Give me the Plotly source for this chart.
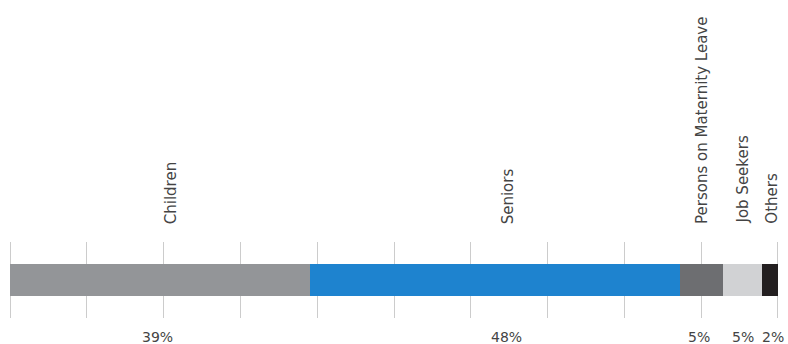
import plotly.graph_objects as go

categories = ["Children", "Seniors", "Persons on Maternity Leave", "Job Seekers", "Others"]
values = [39.1, 48.2, 5.5, 5.2, 2.0]
pct_labels = ["39%", "48%", "5%", "5%", "2%"]
colors = ["#939598", "#1e83cf", "#6d6e71", "#d1d2d4", "#231f20"]

FONT = "DejaVu Sans"
TXT = "#444444"

fig = go.Figure()
for cat, v, c in zip(categories, values, colors):
    fig.add_trace(go.Bar(
        x=[v], y=[0.5], orientation="h", name=cat,
        marker=dict(color=c, line=dict(width=0)),
        width=0.42, hoverinfo="skip",
    ))

top_shift = [11, 13, 0, 0, 1]
bot_shift = [-3, 11, -2, 0, 3]
cum = 0
for i, (cat, v, lab) in enumerate(zip(categories, values, pct_labels)):
    mid = cum + v / 2
    cum += v
    fig.add_annotation(x=mid, y=1, xref="x", yref="paper", text=cat,
                       textangle=-90, showarrow=False, xanchor="center",
                       yanchor="bottom", yshift=16, xshift=top_shift[i],
                       font=dict(family=FONT, size=15, color=TXT))
    fig.add_annotation(x=mid, y=0, xref="x", yref="paper", text=lab,
                       showarrow=False, xanchor="center", yanchor="top",
                       yshift=-9, xshift=bot_shift[i],
                       font=dict(family=FONT, size=14, color=TXT))

fig.update_layout(
    barmode="stack",
    width=788, height=344,
    margin=dict(l=9, r=9, t=242, b=26),
    paper_bgcolor="white", plot_bgcolor="white",
    showlegend=False,
    xaxis=dict(range=[-0.15, 100.15], dtick=10, tick0=0, showgrid=True,
               gridcolor="#cccccc", gridwidth=1, showticklabels=False,
               zeroline=False, showline=False, ticks=""),
    yaxis=dict(range=[0, 1], showgrid=False, showticklabels=False,
               zeroline=False, showline=False, ticks=""),
)

fig.write_html("out.html")
